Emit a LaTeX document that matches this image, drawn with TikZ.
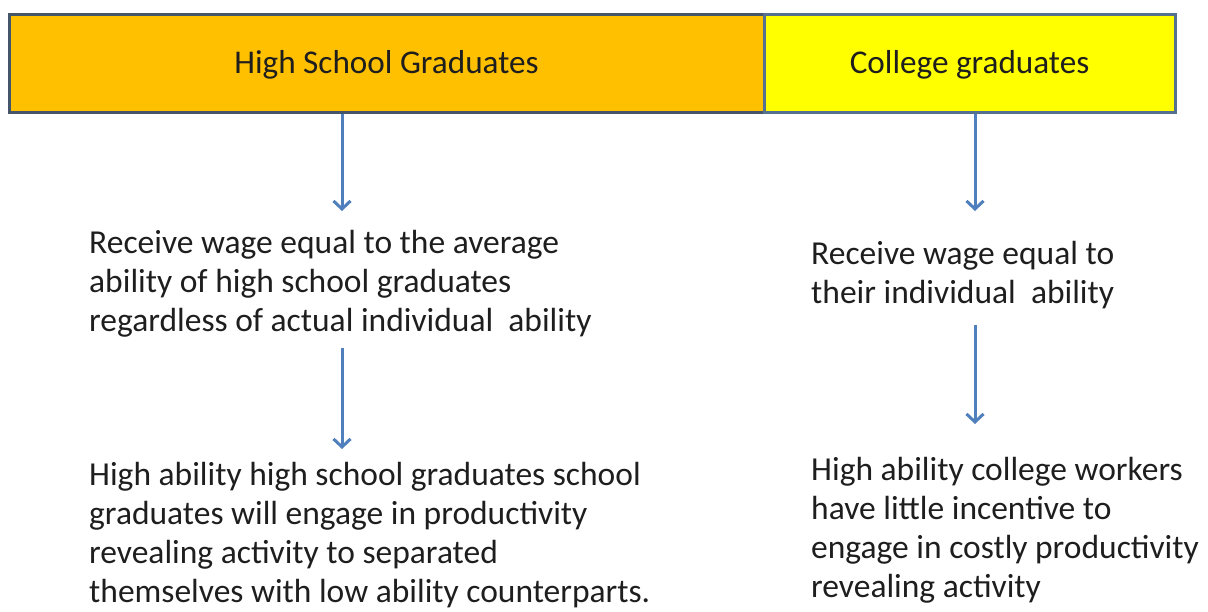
\documentclass[tikz,border=0pt]{standalone}
\usepackage{fontspec}
\setmainfont{Carlito}
\usetikzlibrary{arrows.meta}
\definecolor{hsfill}{HTML}{FFC000}
\definecolor{hsline}{HTML}{46566A}
\definecolor{colfill}{HTML}{FFFF00}
\definecolor{colline}{HTML}{56708F}
\definecolor{arrowblue}{HTML}{4F7FBC}
\definecolor{ink}{HTML}{1E1E1E}
\tikzset{
  header/.style={draw, line width=3pt, rectangle, inner sep=0pt,
    minimum height=98pt, text=ink, text height=21pt, text depth=0pt,
    font=\fontsize{33.2}{37}\selectfont},
  note/.style={anchor=base west, align=left, inner sep=0pt, text=ink,
    font=\fontsize{33.5}{39}\selectfont},
  flow/.style={draw=arrowblue, line width=3pt,
    -{Straight Barb[length=8pt,width=17pt,line width=3pt]}}
}
\begin{document}
\begin{tikzpicture}[x=1pt,y=-1pt]
  \useasboundingbox (0,0) rectangle (1208,611);

  % header bar: two groups side by side
  \node[header, fill=hsfill, draw=hsline, minimum width=755pt]
    (hs) at (386.5,63) {High School Graduates};
  \node[header, fill=colfill, draw=colline, minimum width=411pt]
    (col) at (969.5,63) {College graduates};

  % high school column (base anchor is the baseline of the last line)
  \node[note] (hswage) at (89,331)
    {Receive wage equal to the average\\
     ability of high school graduates\\
     regardless of actual individual\ \ ability};
  \node[note] (hssignal) at (89,602)
    {High ability high school graduates school\\
     graduates will engage in productivity\\
     revealing activity to separated\\
     themselves with low ability counterparts.};

  % college column
  \node[note] (colwage) at (811,303)
    {Receive wage equal to\\
     their individual\ \ ability};
  \node[note] (colsignal) at (811,597)
    {High ability college workers\\
     have little incentive to\\
     engage in costly productivity\\
     revealing activity};

  % arrow end points
  \coordinate (hsA) at (342,211);
  \coordinate (hsB0) at (342,348);
  \coordinate (hsB) at (342,449);
  \coordinate (colA) at (975,211);
  \coordinate (colB0) at (975,325);
  \coordinate (colB) at (975,424);

  \draw[flow] (hsA |- hs.south) -- (hsA);
  \draw[flow] (hsB0) -- (hsB);
  \draw[flow] (colA |- col.south) -- (colA);
  \draw[flow] (colB0) -- (colB);
\end{tikzpicture}
\end{document}
